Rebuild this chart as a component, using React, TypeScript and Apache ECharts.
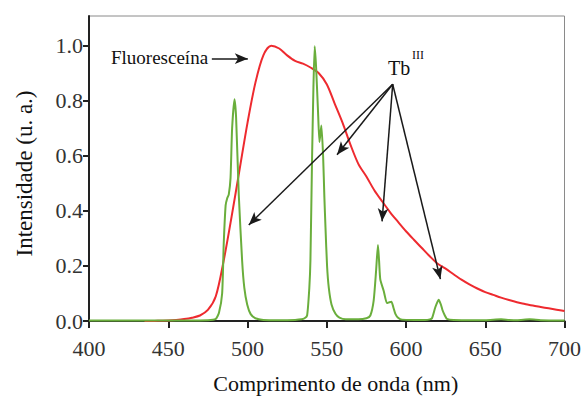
import React, { useEffect, useRef } from "react";
import * as echarts from "echarts";

const xTicks = { min: 400, max: 700, interval: 50 };

// Fluoresceína emission (nm, intensity)
const fluoresceinX = [435, 440, 445, 450, 455, 460, 465, 470, 475, 480, 485, 490, 495, 500, 505, 510, 515, 520, 525, 530, 535, 540, 545, 550, 555, 560, 565, 570, 575, 580, 585, 590, 595, 600, 605, 610, 615, 620, 625, 630, 635, 640, 645, 650, 655, 660, 665, 670, 675, 680, 685, 690, 695, 700];
const fluoresceinY = [0.0, 0.0, 0.001, 0.002, 0.004, 0.007, 0.012, 0.02, 0.04, 0.09, 0.22, 0.38, 0.55, 0.72, 0.866, 0.965, 1.0, 0.99, 0.965, 0.945, 0.935, 0.92, 0.9, 0.86, 0.79, 0.72, 0.64, 0.57, 0.525, 0.475, 0.434, 0.395, 0.36, 0.326, 0.295, 0.265, 0.235, 0.208, 0.19, 0.17, 0.15, 0.133, 0.118, 0.105, 0.095, 0.085, 0.076, 0.068, 0.062, 0.056, 0.051, 0.046, 0.041, 0.036];

// Tb(III) emission (nm, intensity)
const terbiumX = [400, 420, 440, 460, 475, 480, 482, 484, 485, 486.2, 487.2, 488.2, 489.3, 490.3, 491.8, 492.8, 494.5, 496.6, 498, 499.8, 502, 505, 510, 520, 530, 534, 536, 537.6, 539, 539.7, 540.7, 541.6, 542.4, 543.3, 544.5, 545.4, 546.6, 547.7, 548.5, 549.2, 550.2, 551.3, 553, 555.5, 558, 562, 570, 575, 577.5, 579.6, 581.1, 582.3, 583, 583.8, 585.9, 588, 589.5, 590.8, 592, 593.3, 595, 597.5, 605, 612, 615, 616.4, 618.5, 620.6, 622, 623, 624.5, 625.8, 630, 650, 660, 665, 670, 678, 685, 700];
const terbiumY = [0.002, 0.002, 0.002, 0.002, 0.003, 0.008, 0.03, 0.1, 0.28, 0.42, 0.446, 0.46, 0.52, 0.7, 0.806, 0.74, 0.458, 0.22, 0.12, 0.06, 0.025, 0.01, 0.004, 0.003, 0.004, 0.006, 0.01, 0.02, 0.12, 0.22, 0.58, 0.85, 0.998, 0.92, 0.76, 0.65, 0.71, 0.6, 0.45, 0.34, 0.2, 0.12, 0.06, 0.026, 0.012, 0.006, 0.006, 0.01, 0.02, 0.074, 0.18, 0.276, 0.22, 0.15, 0.11, 0.065, 0.068, 0.07, 0.05, 0.026, 0.012, 0.005, 0.004, 0.004, 0.006, 0.01, 0.05, 0.077, 0.06, 0.04, 0.02, 0.008, 0.004, 0.003, 0.006, 0.004, 0.003, 0.006, 0.003, 0.002];

// Annotation arrows (data coordinates)
const tbOrigin = [591.6, 0.86];
const tbTargets = [
  [500.8, 0.349],
  [556.5, 0.604],
  [584.9, 0.362],
  [621.7, 0.152],
];
const fluoArrow = [
  [477.5, 0.953],
  [500.2, 0.953],
];

const SERIF = "Liberation Serif";

export default function App() {
  const ref = useRef<HTMLDivElement>(null);
  useEffect(() => {
    document.body.style.margin = "0";
    const chart = echarts.init(ref.current!, null, { renderer: "svg" });
    const fluo = fluoresceinX.map((x, i) => [x, fluoresceinY[i]]);
    const tb = terbiumX.map((x, i) => [x, terbiumY[i]]);
    const arrowLines: any[] = tbTargets.map((t) => [
      { coord: tbOrigin },
      { coord: t },
    ]);
    arrowLines.push([{ coord: fluoArrow[0] }, { coord: fluoArrow[1] }]);
    chart.setOption({
      animation: false,
      backgroundColor: "#ffffff",
      textStyle: { fontFamily: SERIF },
      grid: {
        left: 89,
        right: 18,
        top: 16,
        bottom: 75,
        show: true,
        borderColor: "#8a8a8a",
        borderWidth: 1,
        backgroundColor: "transparent",
      },
      xAxis: {
        type: "value",
        min: xTicks.min,
        max: xTicks.max,
        interval: xTicks.interval,
        name: "Comprimento de onda (nm)",
        nameLocation: "middle",
        nameGap: 51,
        nameTextStyle: {
          fontFamily: SERIF,
          fontSize: 22,
          color: "#111",
          padding: [0, 0, 0, 18],
        },
        axisLine: { show: true, onZero: false, lineStyle: { color: "#222", width: 2 } },
        axisTick: { show: true, inside: false, length: 7, lineStyle: { color: "#222", width: 2 } },
        axisLabel: {
          fontFamily: SERIF,
          fontSize: 22,
          color: "#333",
          margin: 16,
        },
        splitLine: { show: false },
      },
      yAxis: {
        type: "value",
        min: 0,
        max: 1.108,
        interval: 0.2,
        name: "Intensidade (u. a.)",
        nameLocation: "middle",
        nameGap: 53,
        nameTextStyle: {
          fontFamily: SERIF,
          fontSize: 23,
          color: "#111",
          padding: [0, 10, 0, 0],
        },
        axisLine: { show: true, lineStyle: { color: "#222", width: 2 } },
        axisTick: { show: true, inside: false, length: 6, lineStyle: { color: "#222", width: 2 } },
        axisLabel: {
          fontFamily: SERIF,
          fontSize: 22,
          color: "#333",
          margin: 6,
          showMaxLabel: false,
          formatter: (v: number) => v.toFixed(1),
        },
        splitLine: { show: false },
      },
      series: [
        {
          type: "line",
          name: "Fluoresceína",
          data: fluo,
          smooth: 0.3,
          showSymbol: false,
          lineStyle: { color: "#ee2a2f", width: 2 },
          z: 2,
        },
        {
          type: "line",
          name: "Tb",
          data: tb,
          smooth: 0.2,
          showSymbol: false,
          lineStyle: { color: "#6aae3c", width: 2 },
          z: 3,
          markLine: {
            silent: true,
            symbol: ["none", "arrow"],
            symbolSize: [8, 13],
            label: { show: false },
            lineStyle: { color: "#1a1a1a", width: 1.5, type: "solid" },
            emphasis: { disabled: true },
            data: arrowLines,
          },
        },
      ],
      graphic: [
        {
          type: "text",
          left: 111,
          top: 48,
          style: {
            text: "Fluoresceína",
            fontFamily: SERIF,
            fontSize: 19,
            fill: "#111",
          },
        },
        {
          type: "text",
          left: 388,
          top: 58,
          style: {
            text: "Tb",
            fontFamily: SERIF,
            fontSize: 20,
            fill: "#111",
          },
        },
        {
          type: "text",
          left: 412,
          top: 49,
          style: {
            text: "III",
            fontFamily: SERIF,
            fontSize: 12,
            fill: "#111",
          },
        },
      ],
    });
    return () => chart.dispose();
  }, []);
  return (
    <div
      ref={ref}
      style={{ position: "absolute", left: 0, top: 0, width: 584, height: 399 }}
    />
  );
}
